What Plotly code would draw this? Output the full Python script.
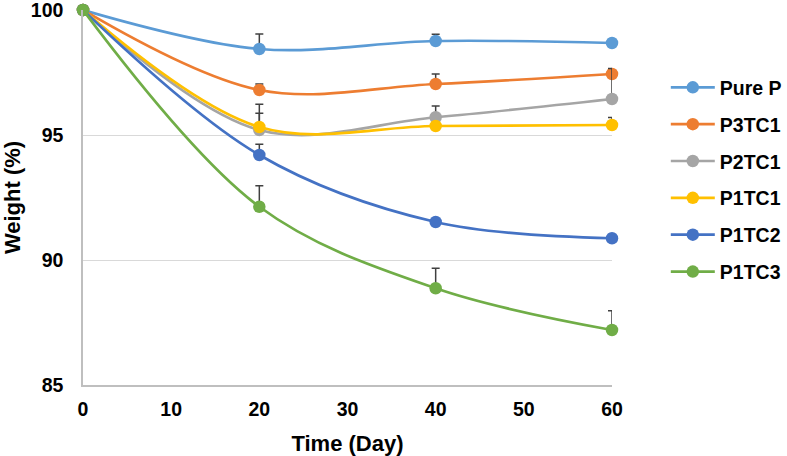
import plotly.graph_objects as go

days = [0, 20, 40, 60]
series_names = ["Pure P", "P3TC1", "P2TC1", "P1TC1", "P1TC2", "P1TC3"]
pure_p = [100, 98.44, 98.76, 98.68]
p3tc1 = [100, 96.80, 97.04, 97.44]
p2tc1 = [100, 95.20, 95.71, 96.44]
p1tc1 = [100, 95.32, 95.36, 95.40]
p1tc2 = [100, 94.20, 91.52, 90.87]
p1tc3 = [100, 92.13, 88.87, 87.20]

err_pure_p = [0, 0.60, 0.27, 0.05]
err_p3tc1 = [0, 0.24, 0.40, 0.15]
err_p2tc1 = [0, 1.03, 0.45, 1.22]
err_p1tc1 = [0, 0.55, 0.05, 0.30]
err_p1tc2 = [0, 0.43, 0.05, 0.15]
err_p1tc3 = [0, 0.84, 0.80, 0.77]

colors = ["#5B9BD5", "#ED7D31", "#A5A5A5", "#FFC000", "#4472C4", "#70AD47"]
values = [pure_p, p3tc1, p2tc1, p1tc1, p1tc2, p1tc3]
errors = [err_pure_p, err_p3tc1, err_p2tc1, err_p1tc1, err_p1tc2, err_p1tc3]

FONT = "Liberation Sans, Arial, sans-serif"

fig = go.Figure()
for name, vals, errs, col in zip(series_names, values, errors, colors):
    fig.add_trace(go.Scatter(
        x=days, y=vals, name=name, mode="lines+markers",
        line=dict(color=col, width=2.7, shape="spline", smoothing=1),
        marker=dict(color=col, size=12.5),
        error_y=dict(type="data", array=errs, arrayminus=[0] * len(errs),
                     symmetric=False, color="#404040", thickness=1.5, width=4),
        legendgroup=name,
        cliponaxis=False,
    ))

fig.update_layout(
    width=787, height=456,
    margin=dict(l=83, r=175, t=10, b=71, autoexpand=False),
    paper_bgcolor="white", plot_bgcolor="white",
    font=dict(family=FONT, color="black", size=19),
    showlegend=True,
    legend=dict(
        xref="container", x=0.846, y=0.845, xanchor="left", yanchor="top",
        font=dict(family=FONT, size=19.5, color="black", weight="bold"),
        tracegroupgap=8.5, traceorder="grouped", itemwidth=44,
        bgcolor="rgba(0,0,0,0)",
    ),
    hovermode=False,
)
fig.update_xaxes(
    range=[0, 60], tickvals=[0, 10, 20, 30, 40, 50, 60],
    showgrid=False, zeroline=False, automargin=False,
    showline=True, linecolor="#BFBFBF", linewidth=1.5,
    tickfont=dict(family=FONT, size=19.5, weight="bold"),
    ticks="", ticklabelstandoff=6, ticklabeloverflow="allow",
    title=dict(text="<b>Time (Day)</b>", font=dict(family=FONT, size=22), standoff=16),
)
fig.update_yaxes(
    range=[85, 100], tickvals=[85, 90, 95, 100],
    showgrid=True, gridcolor="#D9D9D9", gridwidth=1,
    zeroline=False, automargin=False,
    showline=True, linecolor="#BFBFBF", linewidth=1.5,
    tickfont=dict(family=FONT, size=19.5, weight="bold"),
    ticks="", ticklabelstandoff=14, ticklabeloverflow="allow",
    title=dict(text="<b>Weight (%)</b>", font=dict(family=FONT, size=22), standoff=15),
)

fig.write_html(
    "out.html",
    config={"displayModeBar": False},
    post_script="document.body.style.margin='0';document.body.style.overflow='hidden';",
)
